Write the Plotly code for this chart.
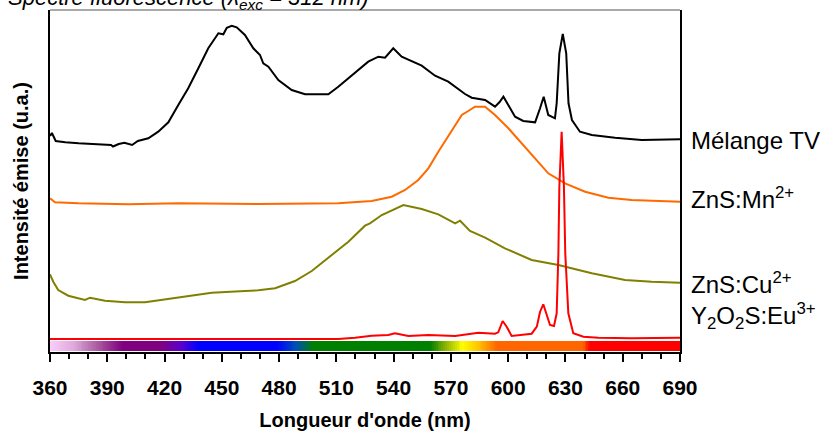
import numpy as np
import plotly.graph_objects as go

# ---------------- data ----------------
# Mélange TV (black)
tv_wl = [360, 361, 363, 368, 375, 384, 392, 393, 396, 399, 403, 406, 411.5, 416.7, 422, 427.2,
         432.4, 437.7, 442.9, 448.2, 450.8, 452.6, 455.2, 457.8, 462.1, 466.5, 470, 471.7, 474.4,
         479.6, 486.6, 493.6, 505.8, 511, 518, 526.7, 532, 535.5, 539.8, 544.2, 554.7, 561.7,
         568.6, 573.9, 577.4, 580.9, 587.9, 593.1, 595.5, 597.5, 600.1, 603.6, 607.9, 614.1,
         616.7, 618.6, 621, 624.5, 625.4, 626.8, 628.6, 630.4, 631.6, 633.4, 637.6, 643.8,
         656, 670, 690]
tv_int = [216, 219, 211, 209.7, 208.7, 207.7, 207, 205.5, 208, 209.3, 207, 211, 213.7, 220.3,
          229.7, 247, 263.7, 283.7, 303.7, 318.7, 317.7, 324.3, 326.3, 324.7, 317, 303.7, 297,
          288.7, 285.3, 272, 262, 257.7, 257.7, 265.3, 276.3, 290.3, 295.3, 294.3, 303.7, 295.3,
          286.3, 276.3, 270.3, 263, 258, 254.3, 252, 245.3, 250, 255.3, 247, 235.3, 231, 229.7,
          243.7, 255.3, 237, 233.7, 248.7, 298.7, 318, 298.7, 248.7, 232, 220.3, 217,
          214.3, 212, 212.7]

# ZnS:Mn2+ (orange)
mn_wl = [360, 362.6, 374.8, 401, 427.2, 469.1, 511, 528.5, 539, 546, 552.9, 558.2, 563.4,
         567.8, 572.2, 575.7, 579.1, 582.6, 587.9, 593.1, 600.1, 607.1, 614.1, 621, 629.8,
         640.3, 652.5, 664.7, 690]
mn_int = [153.7, 149.7, 148.7, 147.7, 148.7, 148, 148.7, 151, 155.3, 162, 172, 183.7, 200.3,
          213.7, 227, 237, 241, 245.3, 245.3, 237, 223.7, 208.7, 193.7, 178.7, 168.7,
          160.3, 154.3, 152, 150.3]

# ZnS:Cu2+ (olive)
cu_wl = [360, 361.7, 364.3, 369.6, 378.3, 381, 388.8, 399.3, 409.8, 423.7, 434.2, 444.7,
         462.1, 469.1, 477.9, 488.3, 497.1, 507.6, 516.3, 525, 527.6, 533.8, 540.7, 545.1,
         554.7, 563.4, 572.2, 574.8, 580, 587.9, 598.3, 612.3, 626.3, 643.8, 661.2, 675.2, 690]
cu_int = [77.7, 70.3, 62, 56.3, 52, 54.3, 51.3, 49.7, 49.7, 53.7, 56.3, 59.3,
          61, 61.7, 63.7, 71, 81, 97, 110.3, 126.3, 128.7, 137, 143, 147,
          143, 137.7, 128.7, 131.3, 121, 114.3, 103.7, 92, 87, 78.7, 72, 70.3, 69.3]

# Y2O2S:Eu3+ (red)
eu_wl = [360, 467.4, 511, 519.8, 528.5, 537.2, 540.7, 547.7, 558.2, 572.2, 584.4, 593.1,
         594.8, 597.1, 599.2, 601.8, 612.3, 615, 616.7, 618.4, 620.2, 621.9, 624, 625.4,
         626.3, 626.8, 628, 629.2, 629.9, 631.5, 634.1, 639.4, 647.2, 664.7, 690]
eu_int = [13, 12.7, 13, 14.3, 16.3, 17, 18.7, 16, 17, 16, 19.3, 18.3,
          19.7, 31, 25.3, 16, 18.3, 25.3, 40.3, 47.7, 37, 27, 26, 38.7,
          98.7, 165.3, 220.3, 165.3, 98.7, 38.7, 18.7, 15.3, 14.3, 13.7, 14.3]

series_names = ["Mélange TV", "ZnS:Mn<sup>2+</sup>", "ZnS:Cu<sup>2+</sup>", "Y<sub>2</sub>O<sub>2</sub>S:Eu<sup>3+</sup>"]
series_label_y = [212, 154.5, 69.5, 36]

x_ticks = [360, 390, 420, 450, 480, 510, 540, 570, 600, 630, 660, 690]

# visible-spectrum strip (wavelength -> colour)
spec_stops_wl = [360, 372, 385, 398, 418, 428, 438, 479, 489, 498, 559, 568, 576, 585, 594, 639, 643, 690]
spec_stops_col = ["rgb(250,205,250)", "rgb(225,170,220)", "rgb(170,90,160)", "rgb(128,0,128)",
                  "rgb(128,0,128)", "rgb(95,0,200)", "rgb(0,0,255)", "rgb(0,0,255)",
                  "rgb(0,80,180)", "rgb(0,128,0)", "rgb(0,128,0)", "rgb(150,185,0)",
                  "rgb(255,255,0)", "rgb(255,190,0)", "rgb(255,102,0)", "rgb(255,102,0)",
                  "rgb(255,0,0)", "rgb(255,0,0)"]

# ---------------- figure ----------------
FONT = "Liberation Sans, Arial, sans-serif"
fig = go.Figure()

wl_lo, wl_hi = x_ticks[0], x_ticks[-1]
edges = np.arange(wl_lo, wl_hi + 1, 1.0)
centers = (edges[:-1] + edges[1:]) / 2
cscale = [[(w - wl_lo) / (wl_hi - wl_lo), c] for w, c in zip(spec_stops_wl, spec_stops_col)]
fig.add_trace(go.Heatmap(x=edges, y=[1, 11], z=[centers], zmin=wl_lo, zmax=wl_hi,
                         colorscale=cscale, showscale=False, hoverinfo="skip"))

for wl, it, col in [(tv_wl, tv_int, "#000000"), (mn_wl, mn_int, "#ff6a00"),
                    (cu_wl, cu_int, "#808000"), (eu_wl, eu_int, "#ff0000")]:
    fig.add_trace(go.Scatter(x=wl, y=it, mode="lines", line=dict(color=col, width=2),
                             showlegend=False, hoverinfo="skip"))

L, R, T, B = 50, 152, 10, 79
W, H = 832, 431
pw = W - L - R
ph = H - T - B

for name, yv in zip(series_names, series_label_y):
    fig.add_annotation(text=name, xref="paper", yref="y", x=(689 - L) / pw, y=yv,
                       xanchor="left", yanchor="middle", showarrow=False,
                       font=dict(family=FONT, size=24, color="#000"))

fig.add_annotation(text="<i>Spectre fluorescence (λ<sub>exc</sub> = 312 nm)</i>",
                   xref="paper", yref="paper", x=(6 - L) / pw, y=(ph + T - 15) / ph,
                   xanchor="left", yanchor="bottom", showarrow=False,
                   font=dict(family=FONT, size=22, color="#000"))

fig.add_shape(type="line", xref="paper", yref="paper", x0=0, x1=1, y0=1, y1=1,
              line=dict(color="#555", width=1))

fig.update_layout(
    width=W, height=H, margin=dict(l=L, r=R, t=T, b=B, autoexpand=False),
    paper_bgcolor="white", plot_bgcolor="white", showlegend=False,
    font=dict(family=FONT, color="#000"),
)
fig.update_xaxes(range=[wl_lo, wl_hi], tickmode="array", tickvals=x_ticks,
                 ticktext=[f"<b>{t}</b>" for t in x_ticks], automargin=False,
                 ticks="outside", ticklen=8, tickwidth=2, tickcolor="#000",
                 minor=dict(dtick=10, tick0=360, ticks="outside", ticklen=5, tickwidth=2, tickcolor="#000"),
                 showline=True, linewidth=2, linecolor="#000", mirror=False,
                 showgrid=False, zeroline=False, ticklabelstandoff=8,
                 tickfont=dict(family=FONT, size=21, color="#000"),
                 title=dict(text="<b>Longueur d'onde (nm)</b>", standoff=20,
                            font=dict(family=FONT, size=20, color="#000")))
fig.update_yaxes(range=[0, 342], showticklabels=False, ticks="", automargin=False,
                 showline=True, linewidth=2, linecolor="#000", mirror=True,
                 showgrid=False, zeroline=False,
                 title=dict(text="<b>Intensité émise (u.a.)</b>", standoff=14,
                            font=dict(family=FONT, size=20, color="#000")))

fig.write_html("out.html", config={"displayModeBar": False},
               post_script="document.body.style.margin='0';document.body.style.overflow='hidden';")
